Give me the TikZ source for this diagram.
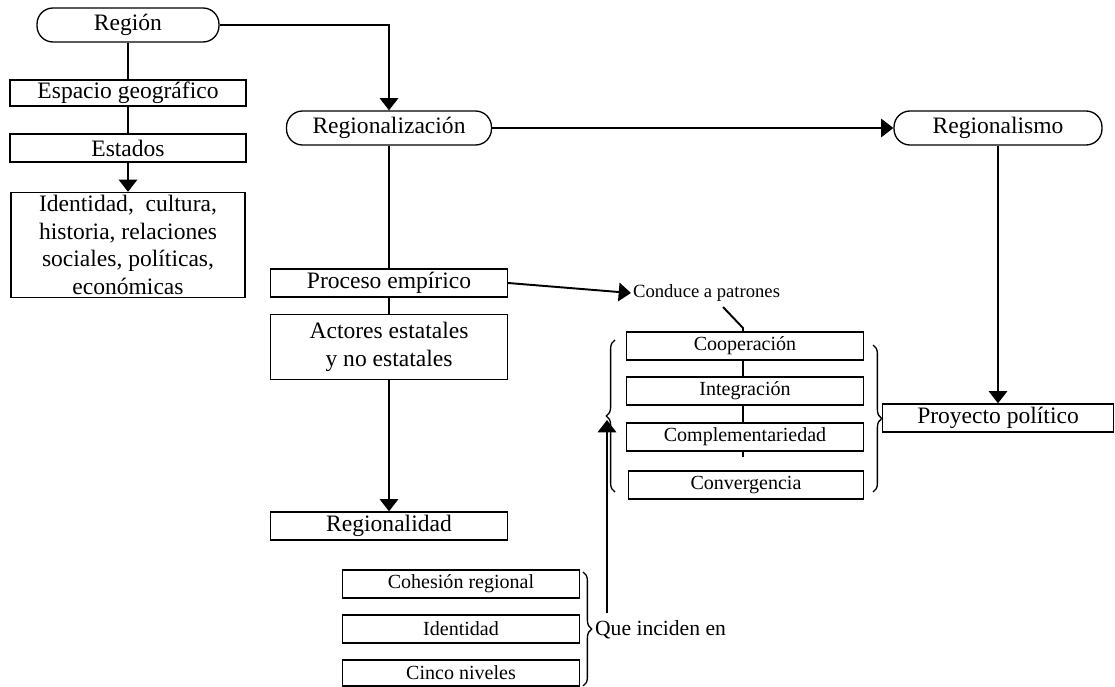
\documentclass[tikz,border=0pt]{standalone}
\usepackage{fontspec}
\setmainfont{Liberation Serif}
\usetikzlibrary{arrows.meta,decorations.pathreplacing}
\newcommand{\grande}{\fontsize{13.4}{15.8}\selectfont}
\newcommand{\chico}{\fontsize{11.4}{13}\selectfont}

\begin{document}
\begin{tikzpicture}[x=0.02cm, y=-0.02cm]
\tikzset{boite/.style={draw, line width=0.75pt, minimum height=0.56cm, inner sep=0pt, font=\grande, align=center}}
\tikzset{rond/.style={boite, rounded corners=0.32cm, minimum height=0.68cm}}
\tikzset{petit/.style={draw, line width=0.75pt, minimum width=4.74cm, minimum height=0.56cm, inner sep=0pt, font=\chico}}
\tikzset{fleche/.style={line width=1.1pt, -{Triangle[width=10.5pt,length=7pt]}}}
\tikzset{trait/.style={line width=1.1pt}}
\tikzset{accolade/.style={decorate, decoration={brace, amplitude=5pt}, line width=0.75pt}}
\useasboundingbox (0,0) rectangle (1115,686);
\node[rond, minimum width=3.64cm] (region) at (128,25) {Región};
\node[boite, minimum width=4.72cm, minimum height=0.52cm] (espacio) at (128,93) {Espacio geográfico};
\node[boite, minimum width=4.72cm] (estados) at (128,148) {Estados};
\node[boite, minimum width=4.68cm, minimum height=2.1cm] (ident) at (128,245) {Identidad,~ cultura,\\ historia, relaciones\\ sociales, políticas,\\ económicas};
\node[rond, minimum width=4.1cm] (regz) at (389,128) {Regionalización};
\node[rond, minimum width=4.16cm] (regm) at (998,128) {Regionalismo};
\node[boite, minimum width=4.62cm] (proy) at (998,418) {Proyecto político};
\node[boite, minimum width=4.74cm] (proceso) at (389,283) {Proceso empírico};
\node[boite, minimum width=4.74cm, minimum height=1.3cm] (actores) at (389,347) {Actores estatales\\ y no estatales};
\node[boite, minimum width=4.74cm] (regd) at (389,526) {Regionalidad};
\node[font=\fontsize{10.6}{12}\selectfont, anchor=west, inner sep=1pt] (conduce) at (631,293) {Conduce a patrones};
\node[petit] (coop) at (745,346) {Cooperación};
\node[petit] (integ) at (745,391) {Integración};
\node[petit] (compl) at (745,437) {Complementariedad};
\node[petit, minimum width=4.7cm] (conv) at (746,485) {Convergencia};
\node[petit] (cohes) at (461,584) {Cohesión regional};
\node[petit] (identi) at (461,629) {Identidad};
\node[petit, minimum height=0.52cm] (cinco) at (461,673) {Cinco niveles};
\node[font=\fontsize{12.3}{14}\selectfont, anchor=west, inner sep=1pt] (incide) at (593,630) {Que inciden en};
\coordinate (pliA) at (723,307);
\coordinate (pliB) at (743,328);
\coordinate (puntaA) at (607,420);
\draw[trait] (region.south) -- (espacio.north);
\draw[trait] (espacio.south) -- (estados.north);
\draw[fleche] (estados.south) -- (ident.north);
\draw[fleche] (region.east) -| (regz.north);
\draw[fleche] (regz.east) -- (regm.west);
\draw[fleche] (regm.south) -- (proy.north);
\draw[trait] (regz.south) -- (proceso.north);
\draw[trait] (proceso.south) -- (actores.north);
\draw[fleche] (actores.south) -- (regd.north);
\draw[fleche] (proceso.east) -- (conduce.west);
\draw[trait] (pliA) -- (pliB) -- (pliB |- coop.north);
\draw[trait] (coop.south -| pliB) -- (integ.north -| pliB);
\draw[trait] (integ.south -| pliB) -- (compl.north -| pliB);
\draw[trait] (compl.south -| pliB) -- ([yshift=-0.1cm]compl.south -| pliB);
\draw[accolade] (615,492) -- (615,340);
\draw[accolade] (873,345) -- (873,492);
\draw[accolade] (583,572) -- (583,686);
\draw[fleche] ([yshift=0.12cm]incide.north -| puntaA) -- (puntaA);
\end{tikzpicture}
\end{document}
